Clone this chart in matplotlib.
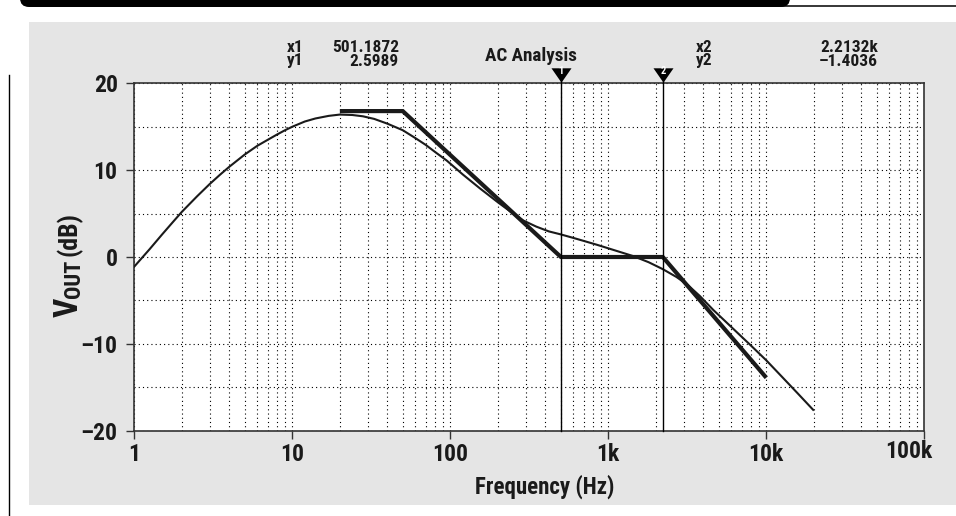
import numpy as np
import matplotlib
matplotlib.use("Agg")
import matplotlib.pyplot as plt
import matplotlib.transforms as mtransforms
from matplotlib.patches import Rectangle, FancyBboxPatch
from matplotlib.lines import Line2D
from matplotlib.ticker import LogLocator, MultipleLocator, NullFormatter

plt.rcParams['font.family'] = ['Liberation Sans Narrow', 'Roboto Condensed', 'DejaVu Sans']
plt.rcParams['font.weight'] = 'bold'
plt.rcParams['font.stretch'] = 'condensed'

# AC response (Hz, dB)
freq_hz = [1, 1.25, 1.5, 1.75, 2, 2.5, 3, 3.5, 4, 5, 6, 7, 8, 9, 10, 12, 14, 17, 20, 24,
           28, 33, 40, 50, 60, 70, 80, 95, 120, 154, 200, 250, 290, 350, 420, 501, 600,
           700, 850, 1000, 1200, 1440, 1800, 2213, 2700, 3200, 3450, 3800, 4620, 5500,
           6500, 8000, 10000, 12500, 15800, 19800]
vout_db = [-1.1, 0.9, 2.6, 4.0, 5.2, 7.0, 8.4, 9.5, 10.4, 11.8, 12.8, 13.5, 14.1, 14.6,
           15.0, 15.6, 15.95, 16.25, 16.4, 16.35, 16.2, 15.9, 15.35, 14.6, 13.7, 12.9,
           12.1, 11.1, 9.5, 7.9, 6.3, 5.0, 4.2, 3.5, 2.95, 2.6, 2.2, 1.85, 1.4, 1.0, 0.55,
           0.1, -0.6, -1.4, -2.3, -3.25, -3.8, -4.5, -6.1, -7.4, -8.65, -10.2, -11.9,
           -13.75, -15.7, -17.6]
# straight-line (Bode) approximation
asym_hz = [20, 50, 501.1872, 2213.2, 10000]
asym_db = [16.8, 16.8, 0, 0, -13.9]
# cursors
cursor_hz = [501.1872, 2213.2]
cursor_db = [2.5989, -1.4036]
cursor_x_text = ['501.1872', '2.2132k']
cursor_y_text = ['2.5989', '\u20131.4036']
x_ticks = [1, 10, 100, 1e3, 1e4, 1e5]
x_tick_labels = ['1', '10', '100', '1k', '10k', '']
y_ticks = [-20, -10, 0, 10, 20]
y_tick_labels = ['\u201320', '\u201310', '0', '10', '20']

W, H = 956, 516
INK = '#1a1a1a'
fig = plt.figure(figsize=(W / 100, H / 100), dpi=100)
px = mtransforms.IdentityTransform()


def fx(x): return x / W
def fy(y): return 1 - y / H


# page furniture: grey panel, black banner, rule lines
fig.patches.append(Rectangle((fx(29), fy(505)), fx(956) - fx(29), fy(22) - fy(505),
                             transform=fig.transFigure, fc='#e5e5e5', ec='none', zorder=-10))
fig.patches.append(FancyBboxPatch((20, H - 7), 770, 30, boxstyle='round,pad=0,rounding_size=9',
                                  transform=px, fc='black', ec='none', zorder=-10))
fig.lines.append(Line2D([60, W], [H - 6, H - 6], transform=px, color='black', lw=1.1, zorder=-10))
fig.lines.append(Line2D([9, 9], [0, H - 75], transform=px, color='black', lw=1.0, zorder=-10))

ax = fig.add_axes([fx(134.3), fy(430.7), fx(924.3) - fx(134.3), fy(83.3) - fy(430.7)])
ax.set_xscale('log')
ax.set_xlim(1, 1e5); ax.set_ylim(-20, 20)
ax.set_xticks(x_ticks, x_tick_labels)
ax.set_yticks(y_ticks, y_tick_labels)
ax.xaxis.set_minor_locator(LogLocator(base=10, subs=np.arange(2, 10)))
ax.xaxis.set_minor_formatter(NullFormatter())
ax.yaxis.set_minor_locator(MultipleLocator(5))
ax.tick_params(which='major', direction='out', length=6, width=1, color='#333333',
               labelsize=17, labelcolor=INK)
ax.tick_params(axis='x', which='major', pad=3)
ax.tick_params(axis='y', which='major', pad=6)
ax.tick_params(which='minor', length=0)
ax.grid(which='both', ls=(0, (1, 2.8)), lw=0.8, color='black')
for s in ax.spines.values():
    s.set_linewidth(1.2); s.set_color('#333333')

ax.plot(freq_hz, vout_db, color=INK, lw=1.5, zorder=3)
ax.plot(asym_hz, asym_db, color=INK, lw=3.0, solid_capstyle='butt', zorder=3)

trans = mtransforms.blended_transform_factory(ax.transData, ax.transAxes)
tri = [(-1, 0.72), (1, 0.72), (0, -0.72)]
for i, c in enumerate(cursor_hz):
    ax.plot([c, c], [0, 1.01], transform=trans, color='black', lw=1.0, clip_on=False, zorder=4)
    ax.plot([c], [1.0253], transform=trans, marker=tri, ms=14.4, color='black', mec='none',
            clip_on=False, zorder=5)
    ax.text(c, 1.035, str(i + 1), transform=trans, color='white', fontsize=7.5,
            ha='center', va='center', zorder=6)
ax.annotate('100k', xy=(1e5, 0), xycoords=trans, xytext=(-15, -9), textcoords='offset pixels',
            ha='center', va='top', fontsize=17, color=INK, annotation_clip=False)

# cursor readout and title
for i, (lx, rx) in enumerate([(287, 399), (696, 878)]):
    fig.text(fx(lx), fy(51.5), 'x%d' % (i + 1), fontsize=12.5, color=INK, va='baseline')
    fig.text(fx(lx), fy(65.5), 'y%d' % (i + 1), fontsize=12.5, color=INK, va='baseline')
    fig.text(fx(rx), fy(51.5), cursor_x_text[i], fontsize=12.5, color=INK, va='baseline', ha='right')
    fig.text(fx(rx), fy(65.5), cursor_y_text[i], fontsize=12.5, color=INK, va='baseline', ha='right')
fig.text(fx(531), fy(61.3), 'AC Analysis', fontsize=13.8, color=INK, va='baseline', ha='center')

# axis labels
fig.text(fx(545), fy(487), 'Frequency (Hz)', fontsize=16.5, color=INK, ha='center', va='center')
rend = fig.canvas.get_renderer()
y0 = 317
for s, size, base, gap in [('V', 24, 78, 0), ('OUT', 16, 80, 3), ('(dB)', 18.5, 77, 0)]:
    t = fig.text(fx(base), fy(y0), s, fontsize=size, color=INK, rotation=90,
                 rotation_mode='anchor', ha='left', va='baseline')
    y0 -= t.get_window_extent(rend).height + gap

fig.savefig('out.png', dpi=100)
